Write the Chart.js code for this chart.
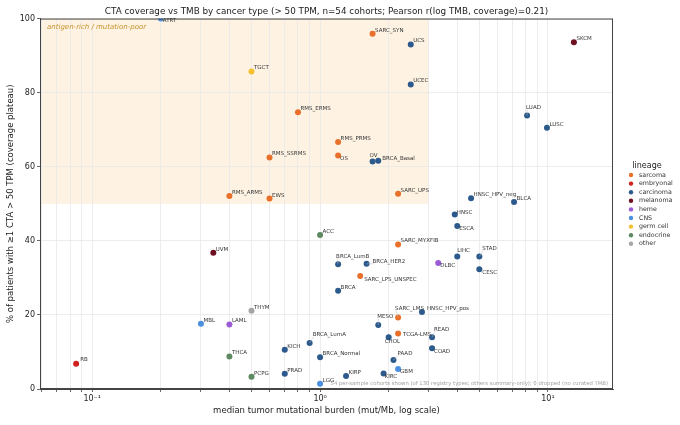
<!DOCTYPE html>
<html>
<head>
<meta charset="utf-8">
<script src="https://cdn.jsdelivr.net/npm/chart.js@4.4.1/dist/chart.umd.min.js"></script>
<style>
  html, body { margin: 0; padding: 0; background: #fff; }
</style>
</head>
<body>
<canvas id="tmbChart" width="680" height="425"></canvas>
<script>
// Datos de cohortes (TMB mediano, % cobertura CTA, linaje)
const cohorts = ['ATRT', 'TGCT', 'RMS_ERMS', 'RMS_SSRMS', 'RMS_PRMS', 'OS', 'SARC_SYN', 'UCS', 'UCEC',
  'LUAD', 'LUSC', 'SKCM', 'OV', 'BRCA_Basal', 'RMS_ARMS', 'EWS', 'ACC', 'UVM', 'BRCA_LumB', 'BRCA',
  'THYM', 'MBL', 'LAML', 'BRCA_LumA', 'KICH', 'THCA', 'BRCA_Normal', 'RB', 'PCPG', 'PRAD', 'LGG',
  'SARC_UPS', 'HNSC_HPV_neg', 'BLCA', 'HNSC', 'ESCA', 'SARC_MYXFIB', 'LIHC', 'STAD', 'DLBC', 'CESC',
  'BRCA_HER2', 'SARC_LPS_UNSPEC', 'SARC_LMS', 'HNSC_HPV_pos', 'MESO', 'TCGA-LMS', 'CHOL', 'READ',
  'COAD', 'PAAD', 'GBM', 'KIRC', 'KIRP'];
const tmbValues = [0.2, 0.5, 0.8, 0.6, 1.2, 1.2, 1.7, 2.5, 2.5,
  8.1, 9.9, 13, 1.7, 1.8, 0.4, 0.6, 1.0, 0.34, 1.2, 1.2,
  0.5, 0.3, 0.4, 0.9, 0.7, 0.4, 1.0, 0.085, 0.5, 0.7, 1.0,
  2.2, 4.6, 7.1, 3.9, 4.0, 2.2, 4.0, 5.0, 3.3, 5.0,
  1.6, 1.5, 2.2, 2.8, 1.8, 2.2, 2.0, 3.1,
  3.1, 2.1, 2.2, 1.9, 1.3];
const coverageValues = [100, 85.7, 74.7, 62.5, 66.7, 63.0, 95.9, 93.0, 82.2,
  73.8, 70.5, 93.6, 61.4, 61.6, 52.1, 51.4, 41.6, 36.8, 33.7, 26.5,
  21.1, 17.6, 17.4, 12.4, 10.6, 8.8, 8.6, 6.8, 3.3, 4.1, 1.4,
  52.7, 51.5, 50.5, 47.1, 44.0, 39.0, 35.8, 35.8, 34.0, 32.3,
  33.8, 30.5, 19.3, 20.8, 17.3, 15.0, 14.0, 14.0,
  11.0, 7.8, 5.4, 4.2, 3.5];
const cohortLineage = ['CNS', 'germ cell', 'sarcoma', 'sarcoma', 'sarcoma', 'sarcoma', 'sarcoma', 'carcinoma', 'carcinoma',
  'carcinoma', 'carcinoma', 'melanoma', 'carcinoma', 'carcinoma', 'sarcoma', 'sarcoma', 'endocrine', 'melanoma', 'carcinoma', 'carcinoma',
  'other', 'CNS', 'heme', 'carcinoma', 'carcinoma', 'endocrine', 'carcinoma', 'embryonal', 'endocrine', 'carcinoma', 'CNS',
  'sarcoma', 'carcinoma', 'carcinoma', 'carcinoma', 'carcinoma', 'sarcoma', 'carcinoma', 'carcinoma', 'heme', 'carcinoma',
  'carcinoma', 'sarcoma', 'sarcoma', 'carcinoma', 'carcinoma', 'sarcoma', 'carcinoma', 'carcinoma',
  'carcinoma', 'carcinoma', 'CNS', 'carcinoma', 'carcinoma'];

const lineages = ['sarcoma', 'embryonal', 'carcinoma', 'melanoma', 'heme', 'CNS', 'germ cell', 'endocrine', 'other'];
const yTicks = [0, 20, 40, 60, 80, 100];
const xTickLabels = { '0.1': '10\u207B\u00B9', '1': '10\u2070', '10': '10\u00B9' };

// Estilos
const lineageColors = {
  'sarcoma': '#e8702a', 'embryonal': '#d0201e', 'carcinoma': '#2d5a8c', 'melanoma': '#6e0f22',
  'heme': '#9b5bd6', 'CNS': '#4b8fe0', 'germ cell': '#f4c030', 'endocrine': '#5d8a60', 'other': '#a5a5a5'
};
// Desplazamiento de etiquetas en px (por defecto arriba a la derecha)
const labelNudge = {
  'ATRT': [2, 2], 'LUAD': [-1, -8], 'OS': [2, 3], 'OV': [-3, -6], 'BRCA_Basal': [4, -2],
  'BRCA_LumB': [-2, -8], 'BRCA_LumA': [3, -8], 'RB': [4, -4], 'HNSC': [2, -2], 'ESCA': [2, 3],
  'LIHC': [0, -6], 'STAD': [3, -8], 'DLBC': [2, 3], 'CESC': [3, 3], 'BRCA_HER2': [6, -2],
  'SARC_LPS_UNSPEC': [4, 3.5], 'SARC_LMS': [-3, -9], 'HNSC_HPV_pos': [5, -3], 'MESO': [-1, -8],
  'TCGA-LMS': [5, 1], 'CHOL': [-4, 4], 'READ': [2, -8], 'COAD': [2, 3], 'PAAD': [4, -7],
  'GBM': [2, 3], 'KIRC': [1, 3]
};

const FONT = "'DejaVu Sans', sans-serif";
const xMin = 0.059, xMax = 19.3;

// Posiciones de la rejilla logarítmica (mayores y menores)
const xGridValues = [];
for (let k = -2; k <= 1; k++) {
  for (let m = 1; m <= 9; m++) {
    const v = parseFloat((m * Math.pow(10, k)).toPrecision(6));
    if (v >= xMin && v <= xMax) xGridValues.push(v);
  }
}

const datasets = lineages.map(function(lin) {
  const pts = [];
  cohorts.forEach(function(name, i) {
    if (cohortLineage[i] === lin) pts.push({ x: tmbValues[i], y: coverageValues[i], name: name });
  });
  return {
    label: lin,
    data: pts,
    backgroundColor: lineageColors[lin],
    borderColor: lineageColors[lin],
    pointRadius: 3,
    pointHoverRadius: 3,
    borderWidth: 0
  };
});

// Plugin: zona sombreada, etiquetas, marco, leyenda y nota
const decorPlugin = {
  id: 'decor',
  beforeDraw(chart) {
    const { ctx, chartArea, scales } = chart;
    const x0 = chartArea.left;
    const x1 = scales.x.getPixelForValue(3);
    const yTop = scales.y.getPixelForValue(100);
    const yBot = scales.y.getPixelForValue(50);
    ctx.save();
    ctx.fillStyle = '#fef3e3';
    ctx.fillRect(x0, yTop, x1 - x0, yBot - yTop);
    ctx.restore();
  },
  afterDatasetsDraw(chart) {
    const { ctx, chartArea } = chart;
    ctx.save();
    ctx.font = '5.5px ' + FONT;
    ctx.textAlign = 'left';
    ctx.textBaseline = 'middle';
    chart.data.datasets.forEach(function(ds, di) {
      const meta = chart.getDatasetMeta(di);
      meta.data.forEach(function(el, j) {
        const name = ds.data[j].name;
        const nudge = labelNudge[name] || [2.5, -3.5];
        const tx = el.x + nudge[0];
        const ty = el.y + nudge[1];
        if (Math.abs(nudge[1]) > 6 || Math.abs(nudge[0]) > 5) {
          ctx.strokeStyle = '#bbbbbb';
          ctx.lineWidth = 0.5;
          ctx.beginPath();
          ctx.moveTo(el.x, el.y);
          ctx.lineTo(tx + 1, ty + (nudge[1] < 0 ? 2 : -2));
          ctx.stroke();
        }
        ctx.fillStyle = '#333';
        ctx.fillText(name, tx, ty);
      });
    });

    // texto de la zona
    ctx.font = 'italic 7px ' + FONT;
    ctx.fillStyle = '#c4932a';
    ctx.fillText('antigen-rich / mutation-poor', chartArea.left + 7, chartArea.top + 9);

    // nota al pie
    ctx.font = '5.3px ' + FONT;
    ctx.fillStyle = '#a0a0a0';
    ctx.textAlign = 'right';
    ctx.fillText('54 per-sample cohorts shown (of 130 registry types; others summary-only); 0 dropped (no curated TMB)',
      chartArea.right - 5, chartArea.bottom - 5);

    // marco
    ctx.strokeStyle = '#444';
    ctx.lineWidth = 1;
    ctx.strokeRect(chartArea.left + 0.5, chartArea.top + 0.5, chartArea.width - 1, chartArea.height - 1);

    // leyenda
    ctx.textAlign = 'center';
    ctx.fillStyle = '#222';
    ctx.font = '8px ' + FONT;
    ctx.fillText('lineage', 647, 166);
    ctx.textAlign = 'left';
    ctx.font = '6.3px ' + FONT;
    lineages.forEach(function(lin, i) {
      const y = 175 + i * 8.6;
      ctx.fillStyle = lineageColors[lin];
      ctx.beginPath();
      ctx.arc(631, y, 2.2, 0, Math.PI * 2);
      ctx.fill();
      ctx.fillStyle = '#333';
      ctx.fillText(lin, 639, y);
    });
    ctx.restore();
  }
};

new Chart(document.getElementById('tmbChart'), {
  type: 'scatter',
  data: { datasets: datasets },
  options: {
    responsive: false,
    animation: false,
    layout: { padding: { left: 6, right: 67, top: 0, bottom: 9 } },
    plugins: {
      legend: { display: false },
      tooltip: { enabled: false },
      title: {
        display: true,
        fullSize: false,
        text: 'CTA coverage vs TMB by cancer type (> 50 TPM, n=54 cohorts; Pearson r(log TMB, coverage)=0.21)',
        font: { family: FONT, size: 8.8, weight: 'normal' },
        color: '#222',
        padding: { top: 6, bottom: 2 }
      }
    },
    scales: {
      x: {
        type: 'logarithmic',
        min: xMin,
        max: xMax,
        afterBuildTicks: function(scale) {
          scale.ticks = xGridValues.map(function(v) { return { value: v }; });
        },
        afterFit: function(scale) { scale.height = 27; },
        ticks: {
          autoSkip: false,
          maxRotation: 0,
          padding: 2,
          color: '#222',
          font: { family: FONT, size: 8 },
          callback: function(v) { return xTickLabels[String(v)] || ''; }
        },
        grid: { color: '#e9e9e9', tickColor: '#444', tickLength: 3, lineWidth: 0.8 },
        border: { color: '#444' },
        title: {
          display: true,
          text: 'median tumor mutational burden (mut/Mb, log scale)',
          font: { family: FONT, size: 8.5 },
          color: '#222',
          padding: { top: 1, bottom: 0 }
        }
      },
      y: {
        min: 0,
        max: 100,
        afterBuildTicks: function(scale) {
          scale.ticks = yTicks.map(function(v) { return { value: v }; });
        },
        afterFit: function(scale) { scale.width = 34; },
        ticks: {
          padding: 2,
          color: '#222',
          font: { family: FONT, size: 8 }
        },
        grid: { color: '#e9e9e9', tickColor: '#444', tickLength: 3, lineWidth: 0.8 },
        border: { color: '#444' },
        title: {
          display: true,
          text: '% of patients with \u22651 CTA > 50 TPM (coverage plateau)',
          font: { family: FONT, size: 8.5 },
          color: '#222',
          padding: { top: 0, bottom: 0 }
        }
      }
    }
  },
  plugins: [decorPlugin]
});
</script>
</body>
</html>
